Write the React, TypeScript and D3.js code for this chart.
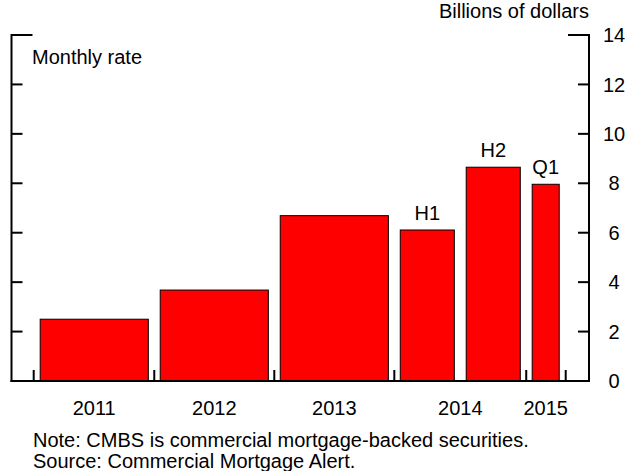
import React from "react";
import * as d3 from "d3";

// Data
const periods = ["2011", "2012", "2013", "2014 H1", "2014 H2", "2015 Q1"];
const values = [2.5, 3.68, 6.69, 6.11, 8.65, 7.96];
const quarterSpan = [4, 4, 4, 2, 2, 1];
const barTags = ["", "", "", "H1", "H2", "Q1"];
const yearLabels = ["2011", "2012", "2013", "2014", "2015"];
const yearOfBar = [0, 1, 2, 3, 3, 4];
const yTicks = [0, 2, 4, 6, 8, 10, 12, 14];

const W = 636;
const H = 471;
const left = 11.5;
const right = 589;
const top = 35;
const bottom = 381;
const FONT = "Arial, 'Liberation Sans', sans-serif";
const FS = 20;

function T(props: { x: number; y: number; anchor?: string; dy?: string; children: React.ReactNode }) {
  return (
    <text
      x={props.x}
      y={props.y}
      textAnchor={props.anchor || "start"}
      dy={props.dy}
      fontSize={FS}
      fill="#000"
    >
      {props.children}
    </text>
  );
}

export default function App() {
  const y = d3.scaleLinear().domain([0, 14]).range([bottom, top]);

  const gap = 0.44;
  const pad = 0.24;
  const starts: number[] = [];
  let cur = pad;
  quarterSpan.forEach((q, i) => {
    starts.push(cur);
    cur += q + (i < quarterSpan.length - 1 ? gap : 0);
  });
  const total = cur + pad;
  const x = d3.scaleLinear().domain([0, total]).range([33.7, 565.7]);

  const bars = periods.map((p, i) => ({
    key: p,
    x0: x(starts[i]),
    x1: x(starts[i] + quarterSpan[i]),
    v: values[i],
    tag: barTags[i],
    year: yearOfBar[i],
  }));

  const tickXs: number[] = [x(0)];
  for (let i = 0; i < bars.length - 1; i++) {
    if (yearOfBar[i] !== yearOfBar[i + 1]) {
      tickXs.push(x(starts[i] + quarterSpan[i] + gap / 2));
    }
  }
  tickXs.push(x(total));

  const yearCenters = yearLabels.map((_, yi) => {
    const bs = bars.filter((b) => b.year === yi);
    return (d3.min(bs, (b) => b.x0)! + d3.max(bs, (b) => b.x1)!) / 2;
  });

  return (
    <svg
      width={W}
      height={H}
      style={{ position: "absolute", left: 0, top: 0, background: "#fff" }}
      fontFamily={FONT}
    >
      {bars.map((b) => (
        <g key={b.key}>
          <rect
            x={b.x0}
            y={y(b.v)}
            width={b.x1 - b.x0}
            height={y(0) - y(b.v)}
            fill="#ff0000"
            stroke="#000"
            strokeWidth={1}
          />
          {b.tag && (
            <T x={(b.x0 + b.x1) / 2} y={y(b.v) - 10} anchor="middle">
              {b.tag}
            </T>
          )}
        </g>
      ))}

      <line x1={left} x2={left} y1={top - 1} y2={bottom + 1} stroke="#000" strokeWidth={2} />
      <line x1={right} x2={right} y1={top - 1} y2={bottom + 1} stroke="#000" strokeWidth={2} />
      <line x1={left - 1} x2={right + 1} y1={bottom} y2={bottom} stroke="#000" strokeWidth={2} />

      {yTicks.map((t) => {
        const len = t === 14 ? 21 : 11;
        return (
          <g key={t}>
            {t !== 0 && (
              <>
                <line x1={left} x2={left + len} y1={y(t)} y2={y(t)} stroke="#000" strokeWidth={2} />
                <line x1={right - len} x2={right} y1={y(t)} y2={y(t)} stroke="#000" strokeWidth={2} />
              </>
            )}
            <T x={614} y={y(t)} dy="0.36em" anchor="middle">
              {t}
            </T>
          </g>
        );
      })}

      {tickXs.map((tx, i) => (
        <line key={i} x1={tx} x2={tx} y1={bottom} y2={bottom - 11} stroke="#000" strokeWidth={2} />
      ))}

      {yearLabels.map((l, i) => (
        <T key={l} x={yearCenters[i]} y={415} anchor="middle">
          {l}
        </T>
      ))}

      <T x={32} y={64}>Monthly rate</T>
      <T x={589} y={18} anchor="end">Billions of dollars</T>

      <T x={33} y={447}>Note: CMBS is commercial mortgage-backed securities.</T>
      <T x={33} y={468}>Source: Commercial Mortgage Alert.</T>
    </svg>
  );
}
